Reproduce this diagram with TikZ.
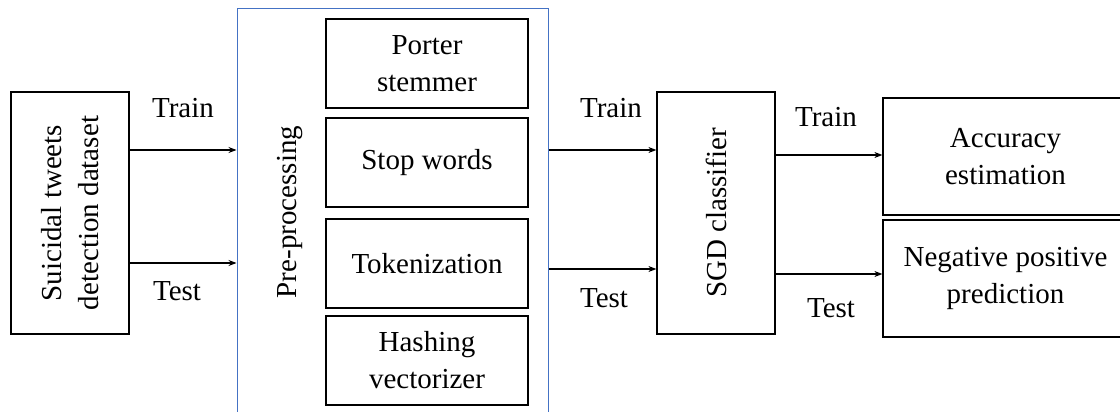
\documentclass[tikz,border=0pt]{standalone}
\usepackage{fontspec}
\setmainfont{Liberation Serif}
\newfontfamily\tnr{Liberation Serif}
\usetikzlibrary{arrows.meta}
\definecolor{frameblue}{RGB}{68,114,196}
\begin{document}
\begin{tikzpicture}[x=1pt,y=-1pt,
  every node/.style={font=\tnr\fontsize{29}{37}\selectfont, inner sep=0pt},
  blk/.style={draw=black, line width=1.2pt, rectangle, align=center},
  arr/.style={-{Stealth[length=8pt,width=6pt]}, line width=1.2pt}]
\useasboundingbox (0,0) rectangle (1120,412);
\clip (0,0) rectangle (1120,412);
\fill[white] (0,0) rectangle (1120,412);
% blue frame
\node[draw=frameblue, line width=1pt, minimum width=311pt, minimum height=420pt] (pre) at (392.5,219) {};
\node[rotate=90] (prelbl) at (290,212) {Pre-processing};
% inner boxes
\node[blk, minimum width=202pt, minimum height=89pt] (porter) at (427,63.5) {Porter\\stemmer};
\node[blk, minimum width=202pt, minimum height=89pt] (stop) at (427,162.5) {Stop words};
\node[blk, minimum width=202pt, minimum height=89pt] (tok) at (427,263.5) {Tokenization};
\node[blk, minimum width=202pt, minimum height=89pt] (hash) at (427,360.5) {Hashing\\vectorizer};
% left dataset
\node[blk, minimum width=118pt, minimum height=242pt] (data) at (70,213) {};
\node[rotate=90, align=center] (datalbl) at (data.center) {Suicidal tweets\\detection dataset};
% SGD
\node[blk, minimum width=118pt, minimum height=242pt] (sgd) at (716,213) {};
\node[rotate=90] (sgdlbl) at (sgd.center) {SGD classifier};
% outputs
\node[blk, minimum width=245pt, minimum height=117pt] (acc) at (1005.5,156.5) {Accuracy\\estimation};
\node[blk, minimum width=245pt, minimum height=117pt] (neg) at (1005.5,278.5) {Negative positive\\prediction};
% arrows
\draw[arr] (data.east |- 0,150) -- (pre.west |- 0,150);
\draw[arr] (data.east |- 0,263) -- (pre.west |- 0,263);
\draw[arr] (pre.east |- 0,150) -- (sgd.west |- 0,150);
\draw[arr] (pre.east |- 0,269) -- (sgd.west |- 0,269);
\draw[arr] (sgd.east |- 0,155) -- (acc.west |- 0,155);
\draw[arr] (sgd.east |- 0,274) -- (neg.west |- 0,274);
% labels
\node (l1) at (183,108) {Train};
\node (l2) at (177,291) {Test};
\node (l3) at (611,108) {Train};
\node (l4) at (604,298) {Test};
\node (l5) at (826,117) {Train};
\node (l6) at (831,308) {Test};
\end{tikzpicture}
\end{document}
